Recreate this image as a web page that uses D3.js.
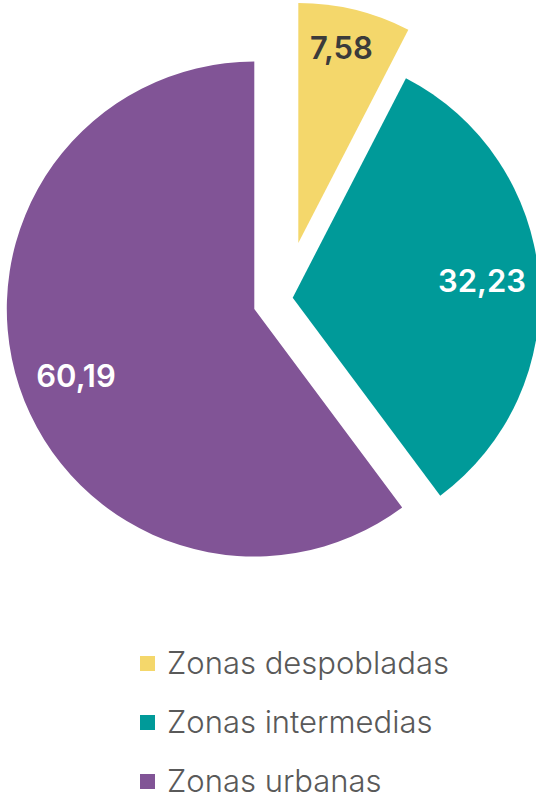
<!DOCTYPE html>
<html>
<head>
<meta charset="utf-8">
<script src="https://cdn.jsdelivr.net/npm/d3@7"></script>
<style>
  html, body { margin: 0; padding: 0; background: #fff; }
  svg { display: block; }
</style>
</head>
<body>
<script>
// data
const categories = ["Zonas despobladas", "Zonas intermedias", "Zonas urbanas"];
const values = [7.58, 32.23, 60.19];
const labels = ["7,58", "32,23", "60,19"];

// colours
const colors = ["#f4d76b", "#009a99", "#815496"];
const labelColors = ["#3b3b3b", "#ffffff", "#ffffff"];

// layout
const width = 536;
const height = 802;
const centre = [254.3, 309];
// exploded slices: shift from the centre, outer radius, label radius
const shifts = [[44, -66], [38.4, -11.3], [0, 0]];
const radii = [240, 247, 247.5];
const labelRadii = [200, 190, 191];
const labelNudge = [[-4, -1], [0, -1], [3, 7]];

const svg = d3
  .select("body")
  .append("svg")
  .attr("width", width)
  .attr("height", height);

const pie = d3.pie().sort(null).startAngle(0).endAngle(2 * Math.PI);
const arcs = pie(values);

const slices = svg
  .selectAll("g.slice")
  .data(arcs)
  .enter()
  .append("g")
  .attr("class", "slice")
  .attr(
    "transform",
    (d, i) => `translate(${centre[0] + shifts[i][0]}, ${centre[1] + shifts[i][1]})`
  );

slices
  .append("path")
  .attr("d", (d, i) => d3.arc().innerRadius(0).outerRadius(radii[i])(d))
  .style("fill", (d, i) => colors[i]);

slices
  .append("text")
  .attr("transform", (d, i) => {
    const c = d3.arc().innerRadius(labelRadii[i]).outerRadius(labelRadii[i]).centroid(d);
    return `translate(${c[0] + labelNudge[i][0]}, ${c[1] + labelNudge[i][1]})`;
  })
  .attr("text-anchor", "middle")
  .attr("dy", "0.36em")
  .style("font-family", "Inter, 'Noto Sans', sans-serif")
  .style("font-weight", 600)
  .style("font-size", "31px")
  .style("fill", (d, i) => labelColors[i])
  .text((d, i) => labels[i]);

// legend
const legendX = 140;
const legendY = 656;
const legendRect = 15;
const legendStep = 59;

const legend = svg
  .selectAll("g.legend-item")
  .data(categories)
  .enter()
  .append("g")
  .attr("class", "legend-item")
  .attr("transform", (d, i) => `translate(${legendX}, ${legendY + i * legendStep})`);

legend
  .append("rect")
  .attr("width", legendRect)
  .attr("height", legendRect)
  .style("fill", (d, i) => colors[i]);

legend
  .append("text")
  .attr("x", 27)
  .attr("y", legendRect / 2)
  .attr("dy", "0.35em")
  .style("font-family", "Inter, 'Noto Sans', sans-serif")
  .style("font-weight", 300)
  .style("font-size", "31px")
  .style("fill", "#595959")
  .text((d) => d);
</script>
</body>
</html>
